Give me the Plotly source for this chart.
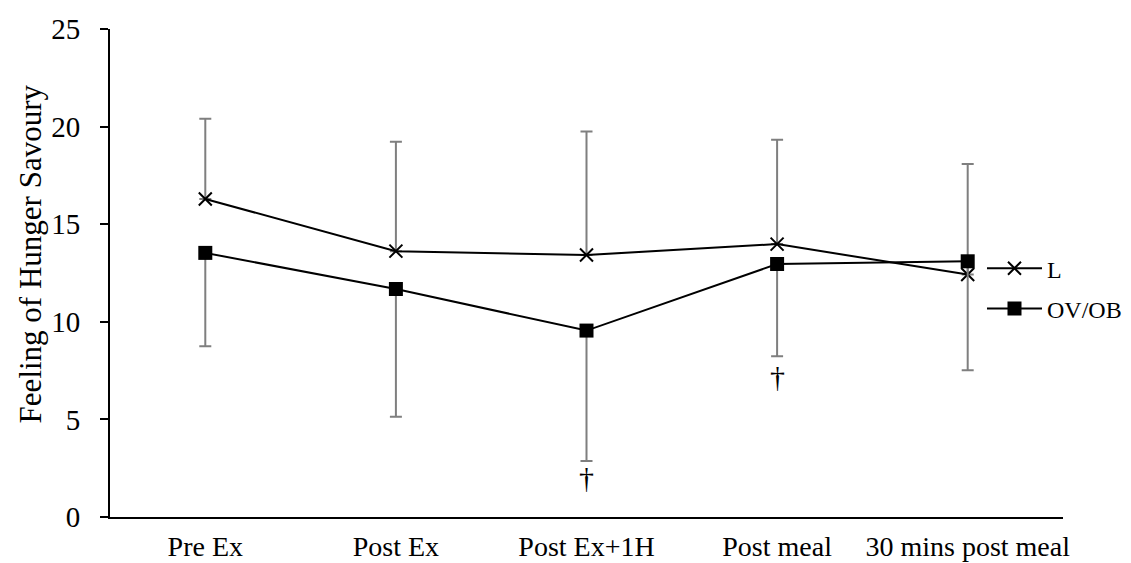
import plotly.graph_objects as go

categories = ["Pre Ex", "Post Ex", "Post Ex+1H", "Post meal", "30 mins post meal"]
lean = [16.29, 13.62, 13.42, 13.98, 12.42]
lean_err_up = [4.11, 5.60, 6.33, 5.34, 5.66]
ovob = [13.53, 11.68, 9.55, 12.96, 13.10]
ovob_err_down = [4.78, 6.55, 6.68, 4.72, 5.58]
dagger_cats = ["Post Ex+1H", "Post meal"]
dagger_y = [2.0, 7.2]
y_title = "Feeling of Hunger Savoury"

FONT = "Liberation Serif, Times New Roman, serif"
ERR = "#7f7f7f"

fig = go.Figure()
fig.add_trace(go.Scatter(
    x=categories, y=lean, name="L", mode="lines+markers",
    line=dict(color="black", width=2),
    marker=dict(symbol="x-thin", size=13, color="black", line=dict(color="black", width=2)),
    error_y=dict(type="data", array=lean_err_up, arrayminus=[0]*5, symmetric=False,
                 color=ERR, thickness=2, width=6),
    legendgroup="a",
))
fig.add_trace(go.Scatter(
    x=categories, y=ovob, name="OV/OB", mode="lines+markers",
    line=dict(color="black", width=2),
    marker=dict(symbol="square", size=14, color="black"),
    error_y=dict(type="data", array=[0]*5, arrayminus=ovob_err_down, symmetric=False,
                 color=ERR, thickness=2, width=6),
    legendgroup="b",
))

for c, yv in zip(dagger_cats, dagger_y):
    fig.add_annotation(x=c, y=yv, text="†", showarrow=False,
                       font=dict(family=FONT, size=30, color="black"),
                       xanchor="center", yanchor="middle")

fig.add_annotation(xref="paper", yref="paper", x=-0.083, y=0.54, text=y_title,
                   textangle=-90, showarrow=False, xanchor="center", yanchor="middle",
                   font=dict(family=FONT, size=31, color="black"))

fig.update_layout(
    width=1131, height=563,
    margin=dict(l=102, r=72, t=21, b=54),
    paper_bgcolor="white", plot_bgcolor="white",
    font=dict(family=FONT, size=28, color="black"),
    showlegend=True,
    legend=dict(x=0.915, y=0.555, xanchor="left", yanchor="top",
                font=dict(family=FONT, size=24, color="black"),
                bgcolor="rgba(0,0,0,0)", tracegroupgap=6, traceorder="grouped",
                itemwidth=55),
    xaxis=dict(type="category", range=[-0.5, 4.5], showline=True, linecolor="black",
               linewidth=2, showgrid=False, ticks="", zeroline=False, automargin=False,
               tickfont=dict(family=FONT, size=28), ticklabelstandoff=3),
    yaxis=dict(range=[0, 25], dtick=5, showline=True, linecolor="black", linewidth=2,
               showgrid=False, ticks="outside", ticklen=8, tickwidth=2, tickcolor="black",
               zeroline=False, automargin=False, tickfont=dict(family=FONT, size=29),
               ticklabelstandoff=14),
)

fig.write_html("out.html")
